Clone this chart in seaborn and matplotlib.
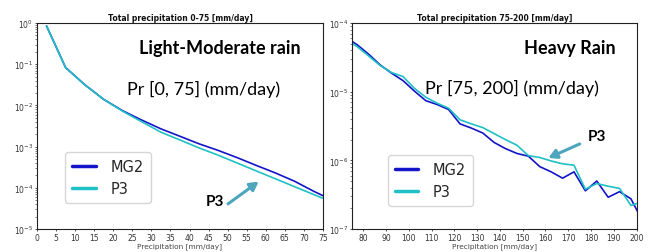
import numpy as np
import pandas as pd
import seaborn as sns
import matplotlib
matplotlib.use("Agg")
import matplotlib.pyplot as plt

# bin centres [mm/day]
x_light = [2.5, 7.5, 12.5, 17.5, 22.5, 27.5, 32.5, 37.5, 42.5, 47.5,
           52.5, 57.5, 62.5, 67.5, 72.5, 77.5]
mg2_light = [0.85, 0.083, 0.032, 0.014, 7.4e-3, 4.4e-3, 2.7e-3, 1.78e-3,
             1.17e-3, 8.1e-4, 5.4e-4, 3.5e-4, 2.3e-4, 1.45e-4, 8.3e-5, 5.0e-5]
p3_light = [0.85, 0.083, 0.032, 0.014, 7.2e-3, 4.0e-3, 2.24e-3, 1.45e-3,
            9.3e-4, 6.2e-4, 4.0e-4, 2.57e-4, 1.66e-4, 1.07e-4, 6.9e-5, 4.5e-5]

x_heavy = [72.5, 77.5, 82.5, 87.5, 92.5, 97.5, 102.5, 107.5, 112.5, 117.5,
           122.5, 127.5, 132.5, 137.5, 142.5, 147.5, 152.5, 157.5, 162.5,
           167.5, 172.5, 177.5, 182.5, 187.5, 192.5, 197.5, 202.5]
mg2_heavy = [6.2e-5, 4.8e-5, 3.5e-5, 2.45e-5, 1.86e-5, 1.45e-5, 1.02e-5,
             7.4e-6, 6.5e-6, 5.5e-6, 3.4e-6, 2.95e-6, 2.5e-6, 1.82e-6,
             1.48e-6, 1.26e-6, 1.15e-6, 8.1e-7, 6.8e-7, 5.5e-7, 6.8e-7,
             3.6e-7, 5.0e-7, 2.9e-7, 3.5e-7, 2.75e-7, 1.32e-7]
p3_heavy = [5.75e-5, 4.5e-5, 3.3e-5, 2.4e-5, 1.9e-5, 1.66e-5, 1.12e-5,
            8.3e-6, 6.8e-6, 5.75e-6, 3.9e-6, 3.4e-6, 3.0e-6, 2.45e-6,
            2.0e-6, 1.66e-6, 1.17e-6, 1.1e-6, 9.8e-7, 8.9e-7, 8.5e-7,
            3.8e-7, 4.6e-7, 4.2e-7, 3.9e-7, 2.2e-7, 2.5e-7]

df_light = pd.DataFrame({
    'pr': x_light * 2,
    'freq': mg2_light + p3_light,
    'model': ['MG2'] * len(x_light) + ['P3'] * len(x_light),
})
df_heavy = pd.DataFrame({
    'pr': x_heavy * 2,
    'freq': mg2_heavy + p3_heavy,
    'model': ['MG2'] * len(x_heavy) + ['P3'] * len(x_heavy),
})

sns.set_style("ticks")
plt.rcParams['font.family'] = ['DejaVu Sans']

palette = {'MG2': '#1414c8', 'P3': '#1fc0c6'}
arrow_col = '#4da6bd'
tick_col = '#333333'
arrow_style = dict(arrowstyle='-|>,head_length=0.5,head_width=0.28',
                   color=arrow_col, lw=2.2, shrinkA=0, shrinkB=0)

fig = plt.figure(figsize=(6.55, 2.53), dpi=100)
ax1 = fig.add_axes([0.0565, 0.0909, 0.4366, 0.814])
ax2 = fig.add_axes([0.537, 0.0909, 0.435, 0.814])


def style_legend(ax, anchor):
    leg = ax.legend(loc='lower left', bbox_to_anchor=anchor, borderaxespad=0,
                    fontsize=10.5, handlelength=1.6, handletextpad=1.0,
                    title=None, frameon=True, edgecolor='#cccccc',
                    fancybox=True, borderpad=0.5, labelspacing=0.45)
    for ln in leg.get_lines():
        ln.set_linewidth(2.5)


# -------------------------------
# Left panel: light-moderate rain
# -------------------------------
sns.lineplot(data=df_light, x='pr', y='freq', hue='model', palette=palette,
             estimator=None, sort=False, linewidth=1.2, ax=ax1)
ax1.set_yscale('log')
ax1.set_xlim(0, 75)
ax1.set_ylim(1e-5, 1)
ax1.set_xticks(np.arange(0, 80, 5))
ax1.set_title('Total precipitation 0-75 [mm/day]', fontsize=5.5,
              fontweight='bold', pad=2.5, color='#111111')

ax1.text(0.64, 0.883, 'Light-Moderate rain', transform=ax1.transAxes,
         fontsize=13, fontweight='bold', family='Lato', ha='center',
         va='center', color='black')
ax1.text(0.582, 0.68, 'Pr [0, 75] (mm/day)', transform=ax1.transAxes,
         fontsize=13, family='Lato', ha='center', va='center', color='black')
ax1.text(0.622, 0.136, 'P3', transform=ax1.transAxes,
         fontsize=11, fontweight='bold', family='Lato', ha='center',
         va='center', color='black')
ax1.annotate('', xy=(0.775, 0.23), xytext=(0.668, 0.122),
             xycoords='axes fraction', textcoords='axes fraction',
             arrowprops=arrow_style)
style_legend(ax1, (0.098, 0.126))

# -------------------------------
# Right panel: heavy rain
# -------------------------------
sns.lineplot(data=df_heavy, x='pr', y='freq', hue='model', palette=palette,
             estimator=None, sort=False, linewidth=1.2, ax=ax2)
ax2.set_yscale('log')
ax2.set_xlim(75, 200)
ax2.set_ylim(1e-7, 1e-4)
ax2.set_xticks(np.arange(80, 210, 10))
ax2.set_title('Total precipitation 75-200 [mm/day]', fontsize=5.5,
              fontweight='bold', pad=2.5, color='#111111')

ax2.text(0.765, 0.883, 'Heavy Rain', transform=ax2.transAxes,
         fontsize=13, fontweight='bold', family='Lato', ha='center',
         va='center', color='black')
ax2.text(0.561, 0.689, 'Pr [75, 200] (mm/day)', transform=ax2.transAxes,
         fontsize=13, family='Lato', ha='center', va='center', color='black')
ax2.text(0.86, 0.451, 'P3', transform=ax2.transAxes,
         fontsize=11, fontweight='bold', family='Lato', ha='center',
         va='center', color='black')
ax2.annotate('', xy=(0.69, 0.345), xytext=(0.80, 0.413),
             xycoords='axes fraction', textcoords='axes fraction',
             arrowprops=arrow_style)
style_legend(ax2, (0.126, 0.112))

for ax in (ax1, ax2):
    ax.set_xlabel('Precipitation [mm/day]', fontsize=5.3, color='#444444',
                  labelpad=0.5)
    ax.set_ylabel('')
    ax.tick_params(axis='both', labelsize=5.5, colors=tick_col, length=1.5,
                   width=0.6, pad=1.2)
    ax.tick_params(axis='y', which='minor', length=1.2, width=0.4)
    for s in ax.spines.values():
        s.set_linewidth(0.8)
        s.set_color('#222222')

fig.savefig('out.png', dpi=100)
